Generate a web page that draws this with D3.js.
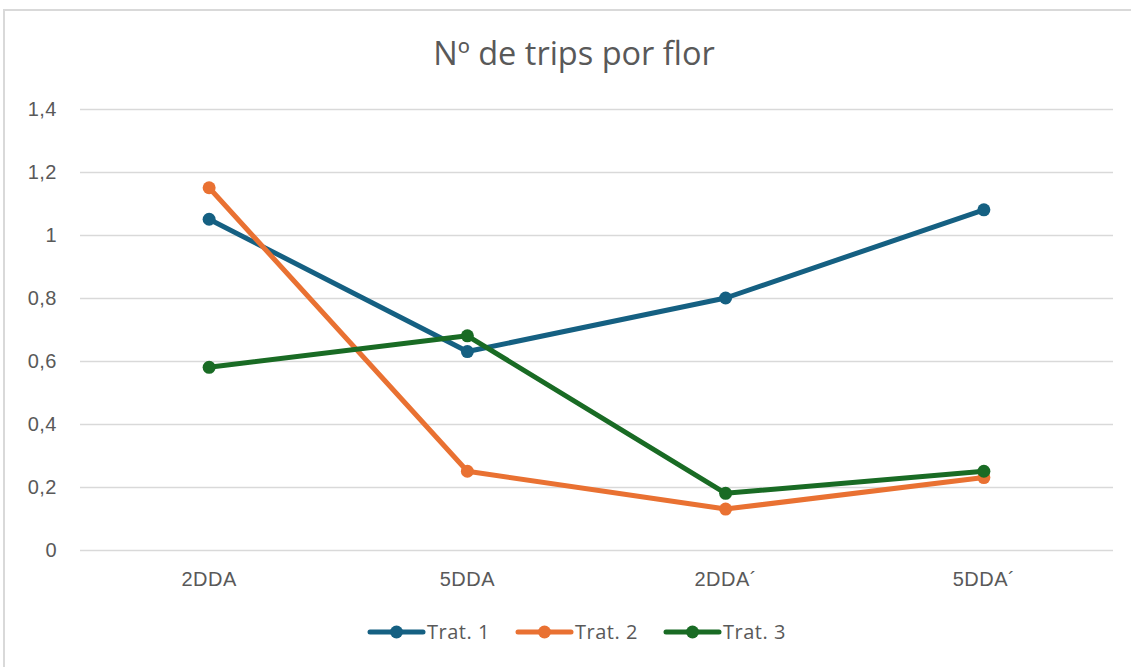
<!DOCTYPE html>
<html><head><meta charset="utf-8">
<script src="https://cdn.jsdelivr.net/npm/d3@7"></script>
<style>body{margin:0;background:#fff;}svg{display:block;font-family:"Open Sans",Inter,sans-serif;}</style>
</head><body>
<svg id="c" width="1131" height="667"></svg>
<script>
const categories = ["2DDA", "5DDA", "2DDA´", "5DDA´"];
const seriesNames = ["Trat. 1", "Trat. 2", "Trat. 3"];
const trat1 = [1.05, 0.63, 0.80, 1.08];
const trat2 = [1.15, 0.25, 0.13, 0.23];
const trat3 = [0.58, 0.68, 0.18, 0.25];
const colors = ["#156082", "#E97132", "#196B24"];
const yTicks = [0, 0.2, 0.4, 0.6, 0.8, 1, 1.2, 1.4];
const title = "Nº de trips por flor";

const series = [trat1, trat2, trat3];
const svg = d3.select("#c");

svg.append("rect").attr("x", 4).attr("y", 10).attr("width", 1140).attr("height", 680)
  .attr("fill", "#fff").attr("stroke", "#d9d9d9").attr("stroke-width", 2);

const x = d3.scaleBand().domain(categories).range([80, 1113]);
const y = d3.scaleLinear().domain([0, 1.4]).range([550, 109]);

const fmt = v => String(+v.toFixed(1)).replace(".", ",");

const yAxis = svg.append("g").attr("transform", "translate(80,0)")
  .call(d3.axisLeft(y).tickValues(yTicks).tickSize(-1033).tickPadding(23).tickFormat(fmt));
yAxis.select(".domain").remove();
yAxis.selectAll(".tick line").attr("stroke", "#d9d9d9").attr("stroke-width", 1.5);
yAxis.selectAll(".tick text").attr("fill", "#595959").style("font-size", "20px").style("letter-spacing", "0.5px");

const xAxis = svg.append("g").attr("transform", "translate(0,550)")
  .call(d3.axisBottom(x).tickSize(0).tickPadding(22));
xAxis.select(".domain").remove();
xAxis.selectAll(".tick text").attr("fill", "#595959").style("font-size", "20px").style("letter-spacing", "0.5px");

svg.append("text").attr("x", 574).attr("y", 65).attr("text-anchor", "middle")
  .attr("fill", "#595959").style("font-size", "32.5px").text(title);

const line = d3.line().x((d, i) => x(categories[i]) + x.bandwidth() / 2).y(d => y(d));
series.forEach((s, k) => {
  const g = svg.append("g");
  g.append("path").datum(s).attr("d", line).attr("fill", "none")
    .attr("stroke", colors[k]).attr("stroke-width", 5).attr("stroke-linejoin", "round").attr("stroke-linecap", "round");
  g.selectAll("circle").data(s).join("circle")
    .attr("cx", (d, i) => x(categories[i]) + x.bandwidth() / 2).attr("cy", d => y(d))
    .attr("r", 6.5).attr("fill", colors[k]);
});

const legendX = [370, 518, 666];
seriesNames.forEach((n, k) => {
  const g = svg.append("g").attr("transform", `translate(${legendX[k]},632)`);
  g.append("line").attr("x1", 0).attr("x2", 53).attr("stroke", colors[k]).attr("stroke-width", 5).attr("stroke-linecap", "round");
  g.append("circle").attr("cx", 26.5).attr("r", 6.5).attr("fill", colors[k]);
  g.append("text").attr("x", 57).attr("dy", "0.35em").attr("fill", "#595959").style("font-size", "20px").style("letter-spacing", "0.5px").text(n);
});
</script>
</body></html>
